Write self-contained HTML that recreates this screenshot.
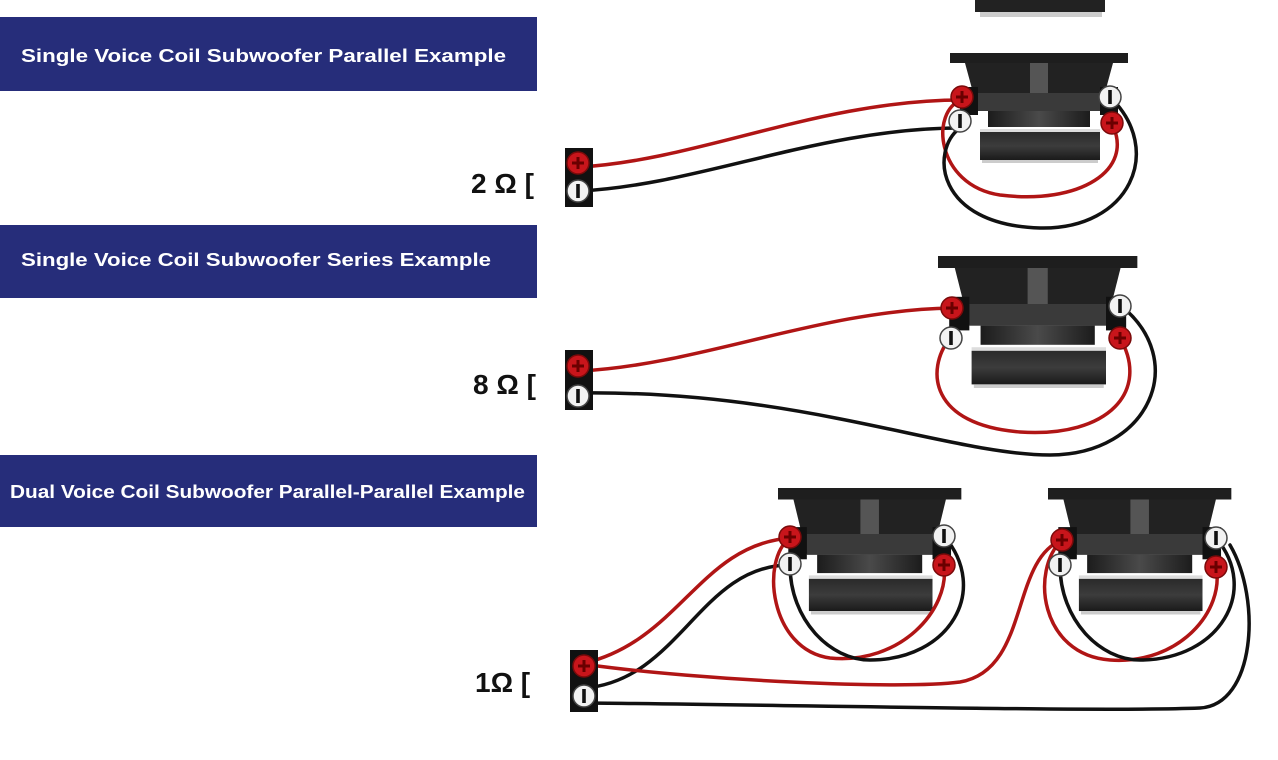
<!DOCTYPE html>
<html><head><meta charset="utf-8"><style>
html,body{margin:0;padding:0;background:#fff;}
svg{display:block;}
</style></head><body>
<svg width="1278" height="760" viewBox="0 0 1278 760" xmlns="http://www.w3.org/2000/svg">
<defs>
<linearGradient id="mag" x1="0" y1="0" x2="0" y2="1">
<stop offset="0" stop-color="#2a2a2a"/><stop offset="0.5" stop-color="#3c3c3c"/><stop offset="1" stop-color="#1a1a1a"/></linearGradient>
<linearGradient id="cone" x1="0" y1="0" x2="1" y2="0">
<stop offset="0" stop-color="#1c1c1c"/><stop offset="0.5" stop-color="#4a4a4a"/><stop offset="1" stop-color="#1c1c1c"/></linearGradient>
<g id="spk">
<rect x="0" y="0" width="178" height="10" fill="#1e1e1e"/>
<polygon points="15,10 163,10 150,58 28,58" fill="#222"/>
<rect x="80" y="10" width="18" height="48" fill="#555"/>
<rect x="28" y="40" width="122" height="18" fill="#3a3a3a"/>
<rect x="10" y="34" width="18" height="28" fill="#111"/>
<rect x="150" y="34" width="18" height="28" fill="#111"/>
<rect x="38" y="58" width="102" height="16" fill="url(#cone)"/>
<rect x="30" y="76" width="120" height="3" fill="#ddd"/>
<rect x="30" y="79" width="120" height="28" fill="url(#mag)"/>
<rect x="32" y="107" width="116" height="3" fill="#ccc"/>
</g>
<g id="tr"><circle r="11" fill="#c8151b" stroke="#7a0a0a" stroke-width="1.5"/><path d="M-6 0H6M0 -6V6" stroke="#6a0000" stroke-width="3"/></g>
<g id="tw"><circle r="11" fill="#f2f2f2" stroke="#444" stroke-width="1.5"/><rect x="-1.8" y="-7" width="3.6" height="14" fill="#111"/></g>
</defs>

<!-- banners -->
<rect x="0" y="17" width="537" height="74" fill="#262d7a"/>
<rect x="0" y="225" width="537" height="73" fill="#262d7a"/>
<rect x="0" y="455" width="537" height="72" fill="#262d7a"/>
<g font-family="Liberation Sans, sans-serif" font-weight="bold" font-size="18" fill="#fff">
<text x="21" y="62" textLength="485" lengthAdjust="spacingAndGlyphs">Single Voice Coil Subwoofer Parallel Example</text>
<text x="21" y="266" textLength="470" lengthAdjust="spacingAndGlyphs">Single Voice Coil Subwoofer Series Example</text>
<text x="10" y="498" textLength="515" lengthAdjust="spacingAndGlyphs">Dual Voice Coil Subwoofer Parallel-Parallel Example</text>
</g>
<g font-family="Liberation Sans, DejaVu Sans, sans-serif" font-weight="bold" font-size="28" fill="#111">
<text x="471" y="193">2 Ω [</text>
<text x="473" y="394">8 Ω [</text>
<text x="475" y="692">1Ω [</text>
</g>

<!-- top partial speaker -->
<rect x="975" y="0" width="130" height="12" fill="#222"/>
<rect x="980" y="12" width="122" height="5" fill="#ccc"/>

<!-- speakers -->
<use href="#spk" transform="translate(950,53)"/>
<use href="#spk" transform="translate(938,256) scale(1.12,1.2)"/>
<use href="#spk" transform="translate(778,488) scale(1.03,1.15)"/>
<use href="#spk" transform="translate(1048,488) scale(1.03,1.15)"/>

<!-- wires -->
<g fill="none" stroke-width="3.5" stroke-linecap="round">
<!-- section 1 -->
<path d="M580 167 C700 160 820 100 962 100" stroke="#b01515"/>
<path d="M580 191 C700 185 820 128 960 128" stroke="#111"/>
<path d="M962 100 C930 110 935 185 1000 195 C1080 205 1135 170 1112 124" stroke="#b01515"/>
<path d="M960 128 C930 150 935 225 1040 228 C1130 230 1165 150 1110 97" stroke="#111"/>
<!-- section 2 -->
<path d="M580 371 C700 365 820 310 952 308" stroke="#b01515"/>
<path d="M950 338 C925 370 930 425 1020 432 C1110 438 1150 390 1120 338" stroke="#b01515"/>
<path d="M580 393 C800 390 950 455 1050 455 C1150 455 1190 360 1120 305" stroke="#111"/>
<!-- section 3 -->
<path d="M585 663 C680 640 700 545 790 538" stroke="#b01515"/>
<path d="M585 688 C680 680 700 565 790 565" stroke="#111"/>
<path d="M790 538 C760 560 770 650 830 658 C900 665 950 610 944 565" stroke="#b01515"/>
<path d="M790 565 C790 620 830 660 870 660 C950 660 990 590 944 536" stroke="#111"/>
<path d="M590 665 C700 680 900 690 960 682 C1030 670 1010 560 1062 540" stroke="#b01515"/>
<path d="M1062 540 C1030 570 1040 655 1110 660 C1180 665 1225 610 1216 567" stroke="#b01515"/>
<path d="M1060 565 C1060 620 1100 660 1140 660 C1220 660 1260 590 1216 538" stroke="#111"/>
<path d="M585 703 C800 705 1100 712 1200 708 C1255 705 1262 600 1230 545" stroke="#111"/>
</g>

<!-- terminals on speakers -->
<use href="#tr" x="962" y="97"/><use href="#tw" x="960" y="121"/>
<use href="#tw" x="1110" y="97"/><use href="#tr" x="1112" y="123"/>
<use href="#tr" x="952" y="308"/><use href="#tw" x="951" y="338"/>
<use href="#tw" x="1120" y="306"/><use href="#tr" x="1120" y="338"/>
<use href="#tr" x="790" y="537"/><use href="#tw" x="790" y="564"/>
<use href="#tw" x="944" y="536"/><use href="#tr" x="944" y="565"/>
<use href="#tr" x="1062" y="540"/><use href="#tw" x="1060" y="565"/>
<use href="#tw" x="1216" y="538"/><use href="#tr" x="1216" y="567"/>

<!-- amp terminals -->
<rect x="565" y="148" width="28" height="59" fill="#111"/>
<use href="#tr" x="578" y="163"/><use href="#tw" x="578" y="191"/>
<rect x="565" y="350" width="28" height="60" fill="#111"/>
<use href="#tr" x="578" y="366"/><use href="#tw" x="578" y="396"/>
<rect x="570" y="650" width="28" height="62" fill="#111"/>
<use href="#tr" x="584" y="666"/><use href="#tw" x="584" y="696"/>
</svg>
</body></html>
